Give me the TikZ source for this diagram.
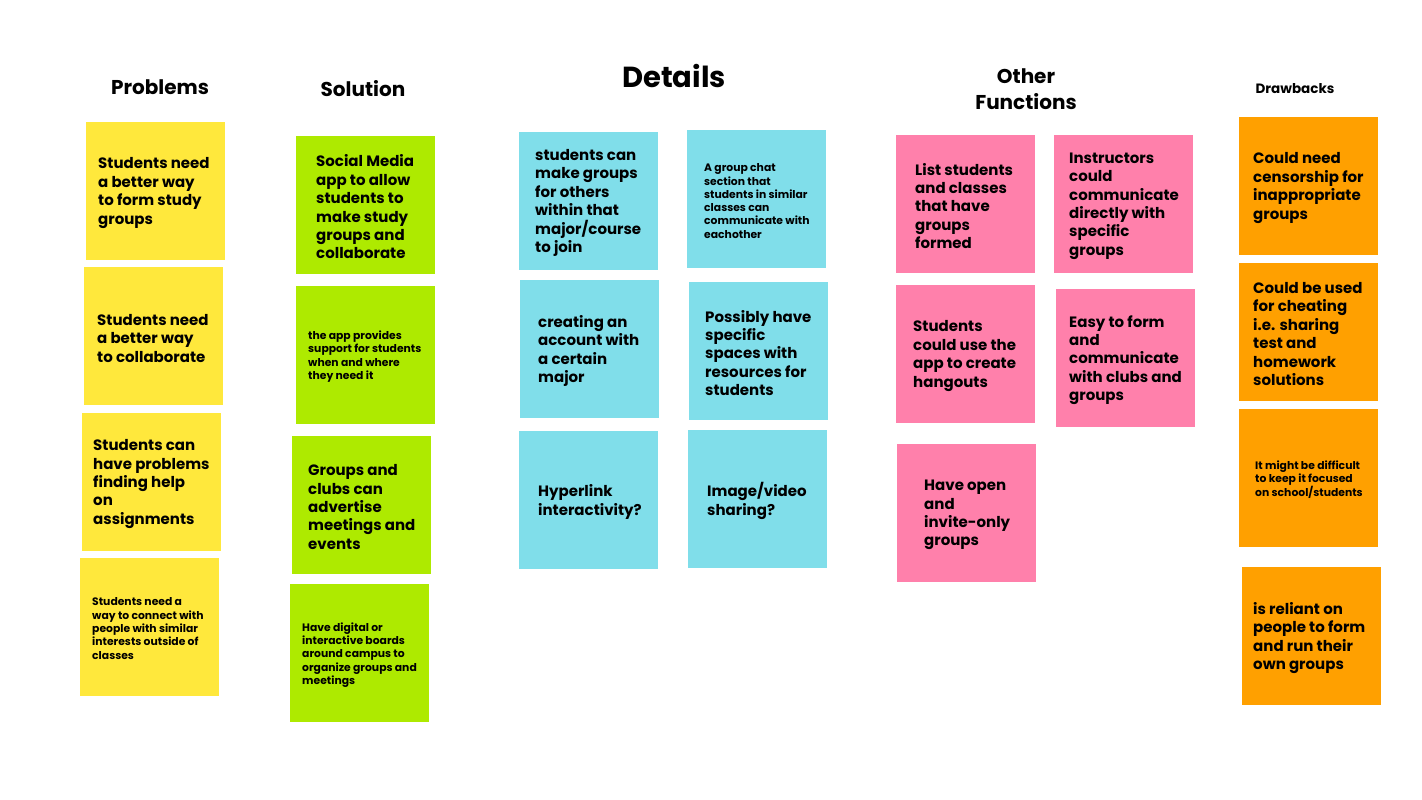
\documentclass[tikz,border=0pt]{standalone}
\usepackage{fontspec}
\setmainfont{Poppins}
\definecolor{yel}{HTML}{FFE83C}
\definecolor{grn}{HTML}{AEEA00}
\definecolor{cya}{HTML}{80DEEA}
\definecolor{pnk}{HTML}{FF80AB}
\definecolor{org}{HTML}{FFA000}
\tikzset{
  note/.style={anchor=north west, minimum width=139pt, minimum height=138pt, inner sep=0pt, draw=none},
  big/.style={anchor=west, align=left, inner sep=0pt, yshift=-2pt, font=\bfseries\fontsize{15}{18.4}\selectfont},
  small/.style={anchor=west, align=left, inner sep=0pt, yshift=-1.5pt, font=\bfseries\fontsize{10.8}{13.3}\selectfont},
  head/.style={anchor=center, align=center, inner sep=0pt, font=\bfseries\fontsize{20}{26}\selectfont}
}
\begin{document}
\begin{tikzpicture}[x=1pt,y=-1pt]
\useasboundingbox[fill=white] (0,0) rectangle (1422,800);
% headings
\node[head] (hprob) at (160,87) {Problems};
\node[head] (hsol) at (363,89) {Solution};
\node[head, font=\bfseries\fontsize{29}{30}\selectfont] (hdet) at (674,76) {Details};
\node[head] (hoth) at (1026,89) {Other\\Functions};
\node[head, font=\bfseries\fontsize{13.5}{16}\selectfont] (hdraw) at (1295,89) {Drawbacks};
% yellow
\node[note, fill=yel] (y1) at (86,122) {};
\node[note, fill=yel] (y2) at (84,267) {};
\node[note, fill=yel] (y3) at (82,413) {};
\node[note, fill=yel] (y4) at (80,558) {};
\node[big] (ty1) at (98,191) {Students need\\a better way\\to form study\\groups};
\node[big] (ty2) at (97,336.5) {Students need\\a better way\\to collaborate};
\node[big] (ty3) at (93,482) {Students can\\have problems\\finding help\\on\\assignments};
\node[small] (ty4) at (92,627) {Students need a\\way to connect with\\people with similar\\interests outside of\\classes};
% green
\node[note, fill=grn] (g1) at (296,136) {};
\node[note, fill=grn] (g2) at (296,286) {};
\node[note, fill=grn] (g3) at (292,436) {};
\node[note, fill=grn] (g4) at (290,584) {};
\node[big] (tg1) at (316,205) {Social Media\\app to allow\\students to\\make study\\groups and\\collaborate};
\node[small] (tg2) at (308,355) {the app provides\\support for students\\when and where\\they need it};
\node[big] (tg3) at (308,505) {Groups and\\clubs can\\advertise\\meetings and\\events};
\node[small] (tg4) at (302,653.5) {Have digital or\\interactive boards\\around campus to\\organize groups and\\meetings};
% cyan
\node[note, fill=cya] (c1) at (519,132) {};
\node[note, fill=cya] (c2) at (687,130) {};
\node[note, fill=cya] (c3) at (520,280) {};
\node[note, fill=cya] (c4) at (689,282) {};
\node[note, fill=cya] (c5) at (519,431) {};
\node[note, fill=cya] (c6) at (688,430) {};
\node[big] (tc1) at (535,201) {students can\\make groups\\for others\\within that\\major/course\\to join};
\node[small] (tc2) at (704,199.5) {A group chat\\section that\\students in similar\\classes can\\communicate with\\eachother};
\node[big] (tc3) at (538,349) {creating an\\account with\\a certain\\major};
\node[big] (tc4) at (705,351) {Possibly have\\specific\\spaces with\\resources for\\students};
\node[big] (tc5) at (538,500) {Hyperlink\\interactivity?};
\node[big] (tc6) at (707,499) {Image/video\\sharing?};
% pink
\node[note, fill=pnk] (p1) at (896,135) {};
\node[note, fill=pnk] (p2) at (1054,135) {};
\node[note, fill=pnk] (p3) at (896,285) {};
\node[note, fill=pnk] (p4) at (1056,289) {};
\node[note, fill=pnk] (p5) at (897,444) {};
\node[big] (tp1) at (915,204) {List students\\and classes\\that have\\groups\\formed};
\node[big] (tp2) at (1069,204) {Instructors\\could\\communicate\\directly with\\specific\\groups};
\node[big] (tp3) at (913,354) {Students\\could use the\\app to create\\hangouts};
\node[big] (tp4) at (1069,358) {Easy to form\\and\\communicate\\with clubs and\\groups};
\node[big] (tp5) at (924,513) {Have open\\and\\invite-only\\groups};
% orange
\node[note, fill=org] (o1) at (1239,117) {};
\node[note, fill=org] (o2) at (1239,263) {};
\node[note, fill=org] (o3) at (1239,409) {};
\node[note, fill=org] (o4) at (1242,567) {};
\node[big] (to1) at (1253,186) {Could need\\censorship for\\inappropriate\\groups};
\node[big] (to2) at (1253,332) {Could be used\\for cheating\\i.e. sharing\\test and\\homework\\solutions};
\node[small] (to3) at (1255,478) {It might be difficult\\to keep it focused\\on school/students};
\node[big] (to4) at (1253,636) {is reliant on\\people to form\\and run their\\own groups};
\end{tikzpicture}
\end{document}
